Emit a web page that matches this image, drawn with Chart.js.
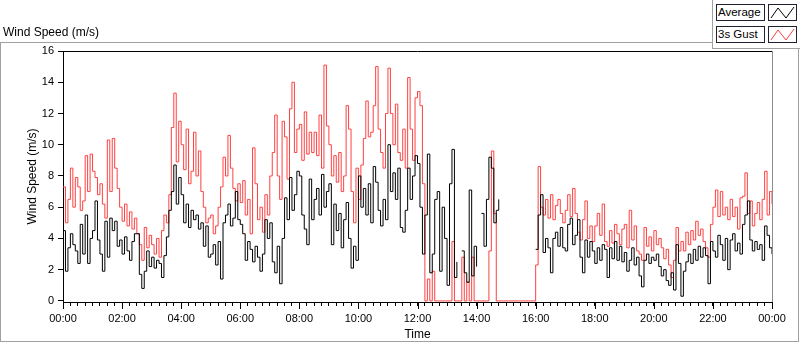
<!DOCTYPE html>
<html>
<head>
<meta charset="utf-8">
<script src="https://cdn.jsdelivr.net/npm/chart.js@4.4.1/dist/chart.umd.min.js"></script>
<style>
  body { margin: 0; background: #fff; }
  #wrap { position: relative; width: 800px; height: 342px; font-family: "Liberation Sans", Arial, sans-serif; color: #000; }
  #frame { position: absolute; left: 0; top: 42px; width: 797px; height: 298px; border: 1px solid #a0a0a0; }
  #title { position: absolute; left: 3px; top: 25px; font-size: 12px; }
  #legend { position: absolute; left: 712px; top: 0; width: 88px; height: 48px; background: #fff; border-left: 1px solid #a0a0a0; border-bottom: 1px solid #a0a0a0; }
  .lbl { position: absolute; left: 3px; width: 46px; height: 15px; border: 1px solid #202030; font-size: 11.5px; line-height: 15px; padding-left: 1px; box-sizing: content-box; }
  .sw { position: absolute; left: 55px; width: 27px; height: 15px; border: 1px solid #202030; }
  canvas { position: absolute; left: 0; top: 0; }
</style>
</head>
<body>
<div id="wrap">
  <div id="frame"></div>
  <canvas id="windChart" width="800" height="342"></canvas>
  <div id="title">Wind Speed (m/s)</div>
  <div id="legend">
    <div class="lbl" style="top:4px">Average</div>
    <div class="sw" style="top:4px"><svg width="27" height="15"><polyline points="2,13 9,3 17,13 25,2" fill="none" stroke="#000" stroke-width="1"/></svg></div>
    <div class="lbl" style="top:26px">3s Gust</div>
    <div class="sw" style="top:26px"><svg width="27" height="15"><polyline points="2,13 9,3 17,13 25,2" fill="none" stroke="#ff4040" stroke-width="1"/></svg></div>
  </div>
</div>
<script>
// 5 minute samples, 00:00 .. 24:00 (one row per hour)
const avgSpeed = [
  4.5, 1.9, 3.4, 4.3, 3.6, 3.2, 2.4, 4.9, 3.0, 5.5, 2.4, 4.0,
  4.5, 6.4, 3.9, 3.0, 1.9, 5.1, 2.8, 5.3, 4.5, 5.1, 3.5, 3.9,
  3.0, 4.1, 3.2, 2.6, 3.8, 4.3, 4.3, 1.7, 0.8, 1.9, 3.2, 2.2,
  2.8, 2.1, 2.6, 2.4, 1.5, 2.9, 4.1, 5.8, 7.0, 8.7, 6.2, 7.9,
  6.8, 5.0, 6.2, 4.7, 5.8, 5.2, 5.5, 4.6, 5.0, 3.5, 4.8, 2.8,
  3.0, 3.6, 2.3, 3.8, 1.4, 5.0, 5.5, 6.2, 4.8, 5.3, 7.0, 5.2,
  4.9, 4.3, 2.6, 3.8, 3.3, 2.5, 3.5, 2.8, 1.9, 3.0, 5.2, 4.0,
  5.0, 2.5, 1.8, 3.5, 1.1, 4.0, 6.6, 5.2, 7.9, 5.8, 6.8, 8.3,
  8.0, 5.5, 4.6, 3.6, 7.8, 5.2, 6.5, 7.2, 5.5, 8.1, 6.0, 7.0,
  7.5, 3.6, 6.2, 4.5, 5.6, 3.4, 5.2, 6.3, 4.0, 2.1, 3.5, 2.6,
  8.0, 6.0, 7.2, 5.5, 7.5, 5.0, 8.6, 7.6, 5.8, 4.8, 6.5, 5.2,
  10.0, 7.0, 8.2, 6.5, 8.5, 4.7, 4.4, 5.8, 8.5, 6.5, 8.0, 9.3,
  8.8, 6.0, 3.0, 5.5, 9.4, 1.8, 3.0, 6.5, 7.0, 1.9, 6.0, 4.0,
  1.0, 7.5, 9.7, 1.5, 2.5, null, 3.2, 1.8, 1.2, 7.1, 1.6, 3.5,
  2.2, null, 5.6, 3.5, 6.5, 9.2, 8.5, 5.0, 5.8, 6.5, null, null,
  null, null, null, null, null, null, null, null, null, null, null, null,
  3.3, 5.5, 6.8, 3.1, 4.0, 3.4, 1.8, 4.0, 4.4, 3.5, 4.7, 3.4,
  3.2, 4.9, 5.3, 3.6, 4.2, 5.2, 2.8, 1.8, 3.9, 2.8, 3.8, 3.2,
  2.4, 3.4, 2.6, 3.6, 3.3, 1.5, 3.4, 2.7, 3.8, 2.6, 3.5, 2.5,
  3.1, 1.9, 2.6, 3.4, 2.3, 2.8, 1.6, 0.9, 2.6, 3.0, 2.4, 2.8,
  2.6, 3.0, 2.2, 1.6, 2.0, 1.3, 1.0, 1.8, 0.7, 3.6, 2.4, 0.3,
  1.9, 2.5, 3.0, 2.4, 3.3, 2.6, 3.5, 2.8, 3.4, 2.9, 1.1, 3.8,
  3.2, 2.8, 4.2, 3.6, 2.6, 4.0, 2.0, 3.9, 4.3, 3.2, 3.7, 3.0,
  4.9, 5.5, 6.4, 3.9, 3.2, 3.8, 3.3, 3.6, 2.6, 4.8, 4.2, 3.4,
  3.0
];

const gustSpeed = [
  7.3, 5.0, 6.5, 8.5, 6.0, 7.9, 7.3, 5.8, 6.4, 9.3, 7.0, 9.4,
  8.3, 7.9, 6.8, 7.5, 6.2, 5.3, 10.3, 7.0, 10.4, 8.5, 7.2, 6.0,
  5.1, 6.2, 4.8, 5.7, 4.6, 5.3, 4.3, 3.6, 2.6, 4.7, 3.4, 4.2,
  3.6, 3.0, 4.0, 2.8, 4.5, 5.5, 5.0, 6.8, 11.1, 13.3, 8.9, 11.5,
  10.0, 8.4, 11.0, 7.5, 8.3, 10.8, 8.0, 9.6, 7.0, 6.0, 5.0, 5.3,
  5.5, 4.3, 4.8, 6.0, 7.3, 9.2, 8.0, 10.6, 8.5, 7.2, 6.4, 7.5,
  6.3, 7.7, 5.5, 6.5, 4.3, 9.8, 7.5, 5.2, 6.0, 4.4, 6.8, 5.5,
  8.0, 9.5, 11.9, 8.0, 6.5, 11.5, 10.5, 7.8, 12.3, 14.0, 9.5, 11.0,
  11.3, 9.0, 12.1, 9.4, 10.8, 9.5, 10.8, 9.3, 11.9, 8.5, 15.1, 11.2,
  10.0, 8.0, 9.3, 7.6, 9.5, 7.0, 8.0, 12.5, 11.0, 7.0, 5.0, 8.5,
  6.5, 8.7, 10.4, 12.8, 10.5, 10.8, 12.5, 15.0, 11.0, 9.5, 8.5, 12.0,
  14.9, 12.0, 10.0, 12.6, 9.5, 9.0, 11.0, 8.5, 14.3, 11.0, 9.0, 13.0,
  13.4, 12.5, 7.5, 0, 1.4, 0, 1.9, 0, 0, 0, 0, 0,
  0, 0, 3.8, 0, 0, 0, 2.8, 0, 1.2, 0, 2.8, 0,
  0, 0, 0, 0, 0, 3.2, 9.6, 5.6, 0, 0, 0, 0,
  0, 0, 0, 0, 0, 0, 0, 0, 0, 0, 0, 0,
  2.3, 8.6, 6.0, 5.5, 6.5, 5.3, 6.8, 5.2, 6.1, 6.5, 5.6, 5.0,
  5.8, 6.8, 5.4, 7.2, 5.6, 4.4, 3.9, 5.2, 6.4, 4.0, 4.8, 3.8,
  4.8, 5.6, 4.2, 6.2, 3.8, 3.5, 4.5, 3.7, 4.9, 4.3, 3.6, 4.6,
  4.9, 3.4, 5.8, 3.9, 4.8, 3.2, 3.0, 2.6, 4.7, 3.5, 4.1, 3.2,
  4.5, 3.6, 4.0, 3.4, 2.7, 3.3, 2.3, 1.5, 2.6, 4.7, 3.2, 3.8,
  3.2, 4.4, 3.6, 4.5, 3.9, 5.1, 4.2, 4.6, 3.8, 3.4, 2.8, 4.9,
  6.0, 7.1, 5.4, 7.0, 5.5, 6.0, 5.2, 6.5, 5.4, 6.0, 4.6, 6.6,
  6.7, 8.2, 5.6, 6.4, 4.8, 5.6, 6.3, 5.2, 6.5, 8.3, 5.5, 7.0,
  6.2
];

const timeLabels = ['00:00', '02:00', '04:00', '06:00', '08:00', '10:00', '12:00',
  '14:00', '16:00', '18:00', '20:00', '22:00', '00:00'];
const speedTicks = [0, 2, 4, 6, 8, 10, 12, 14, 16];

const sampleHours = avgSpeed.map((v, i) => i * 5 / 60);

const frameLines = {
  id: 'frameLines',
  afterDraw(chart) {
    const { ctx, chartArea: a, scales: { x } } = chart;
    ctx.save();
    ctx.lineWidth = 1;
    ctx.strokeStyle = '#000';
    ctx.beginPath();
    ctx.moveTo(a.left, a.top + 0.5);
    ctx.lineTo(a.right, a.top + 0.5);
    // the labelled ticks are a bit longer
    for (let h = 0; h <= 24; h += 2) {
      const px = Math.round(x.getPixelForValue(h)) + 0.5;
      ctx.moveTo(px, a.bottom);
      ctx.lineTo(px, a.bottom + 7);
    }
    ctx.stroke();
    ctx.strokeStyle = '#8c8c8c';
    ctx.beginPath();
    ctx.moveTo(a.right + 0.5, a.top);
    ctx.lineTo(a.right + 0.5, a.bottom);
    ctx.stroke();
    ctx.restore();
  }
};

Chart.defaults.font.family = '"Liberation Sans", Arial, sans-serif';
Chart.defaults.color = '#000';

const ctx = document.getElementById('windChart').getContext('2d');
new Chart(ctx, {
  type: 'line',
  data: {
    datasets: [
      {
        label: 'Average',
        data: avgSpeed.map((v, i) => ({ x: sampleHours[i], y: v })),
        borderColor: '#000',
        borderWidth: 1,
        pointRadius: 0,
        stepped: true,
        spanGaps: false
      },
      {
        label: '3s Gust',
        data: gustSpeed.map((v, i) => ({ x: sampleHours[i], y: v })),
        borderColor: '#ff4040',
        borderWidth: 1,
        pointRadius: 0,
        stepped: true,
        spanGaps: false
      }
    ]
  },
  options: {
    responsive: false,
    animation: false,
    layout: { padding: { left: 0, top: 51, right: 28, bottom: 0 } },
    plugins: { legend: { display: false }, tooltip: { enabled: false } },
    scales: {
      x: {
        type: 'linear',
        min: 0,
        max: 24,
        afterFit(s) { s.height = 40; },
        ticks: {
          stepSize: 0.25,
          autoSkip: false,
          maxRotation: 0,
          padding: 6,
          font: { size: 11 },
          callback(v) {
            const k = Math.round(v / 2);
            return Math.abs(v - k * 2) < 1e-6 ? timeLabels[k] : '';
          }
        },
        grid: { drawOnChartArea: false, tickLength: 4, tickColor: '#000' },
        border: { color: '#000' },
        title: { display: true, text: 'Time', font: { size: 12 }, padding: { top: 0, bottom: 0 } }
      },
      y: {
        min: -0.07,
        max: 16,
        afterFit(s) { s.width = 63; },
        afterBuildTicks(s) { s.ticks = speedTicks.map(v => ({ value: v })); },
        ticks: { padding: 4, font: { size: 11 } },
        grid: { drawOnChartArea: false, tickLength: 5, tickColor: '#000' },
        border: { color: '#000' },
        title: { display: true, text: 'Wind Speed (m/s)', font: { size: 12 }, padding: { top: 25, bottom: 0 } }
      }
    }
  },
  plugins: [frameLines]
});
</script>
</body>
</html>
